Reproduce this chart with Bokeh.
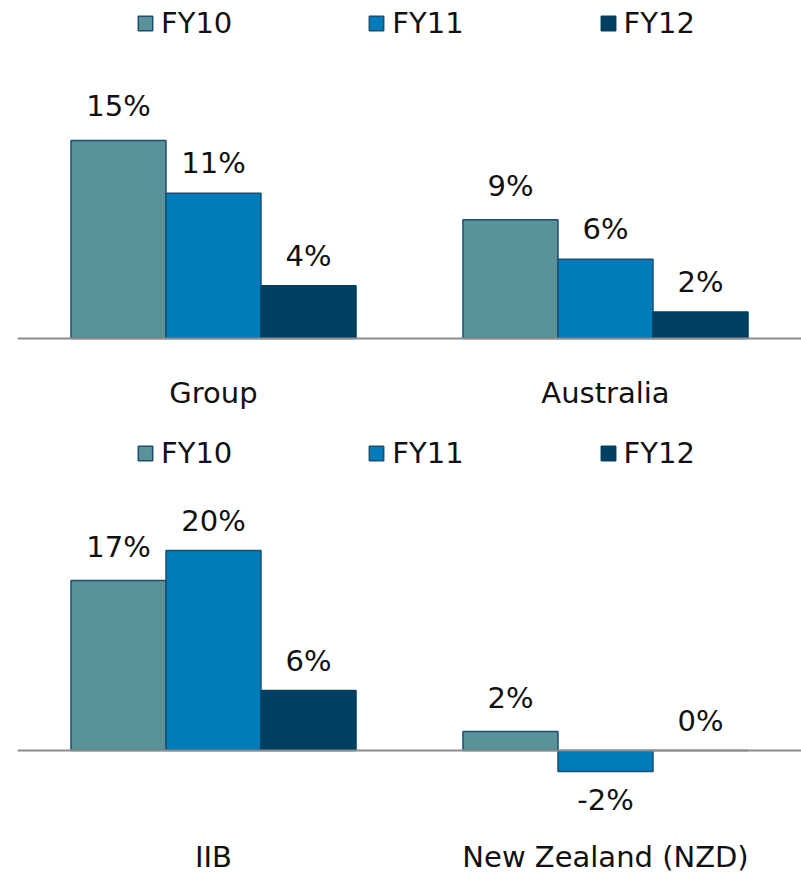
from bokeh.plotting import figure
from bokeh.models import (ColumnDataSource, FactorRange, Range1d, Legend, LegendItem, Span)
from bokeh.layouts import column
from bokeh.core.properties import value
from bokeh.embed import file_html
from bokeh.resources import INLINE

# ---- data ----
years = ["FY10", "FY11", "FY12"]

top_categories = ["Group", "Australia"]
top_fy10 = [15.0, 9.0]
top_fy11 = [11.0, 6.0]
top_fy12 = [4.0, 2.0]

bottom_categories = ["IIB", "New Zealand (NZD)"]
bottom_fy10 = [17.0, 1.9]
bottom_fy11 = [20.0, -2.1]
bottom_fy12 = [6.0, 0.0]

# ---- style ----
FONT = "DejaVu Sans"
FSIZE = "29px"
FILL = {"FY10": "#5A9299", "FY11": "#007CBA", "FY12": "#003F62"}
LINE = {"FY10": "#1B4F72", "FY11": "#1B4F72", "FY12": "#003F62"}
LABEL_GAP = {"FY10": 34, "FY11": 30, "FY12": 30}
NEG_GAP = 28


def panel(cats, series, height, y0, y1, cat_offset, legend_y):
    factors = [(c, y) for c in cats for y in years]
    p = figure(width=801, height=height,
               x_range=FactorRange(*factors, group_padding=1.126, range_padding=0.563,
                                   range_padding_units="absolute"),
               y_range=Range1d(y0, y1),
               x_axis_location=None, y_axis_location=None,
               output_backend="svg", toolbar_location=None,
               min_border_left=17, min_border_right=0, min_border_top=0, min_border_bottom=0)
    p.grid.visible = False
    p.outline_line_color = None
    p.background_fill_color = "white"

    items = []
    lx, ly, lt, lo = [], [], [], []
    for yr, vals in zip(years, series):
        xs = [(c, yr) for c in cats]
        src = ColumnDataSource(dict(x=xs, top=vals))
        r = p.vbar(x="x", top="top", bottom=0, width=1.0, source=src,
                   fill_color=FILL[yr], line_color=LINE[yr], line_width=1.5)
        items.append(LegendItem(label=yr, renderers=[r]))
        for x, v in zip(xs, vals):
            lx.append(x)
            ly.append(v)
            lt.append("%d%%" % round(v))
            lo.append(-LABEL_GAP[yr] if v >= 0 else NEG_GAP)

    p.add_layout(Span(location=0, dimension="width", line_color="#8C8C8C", line_width=2))

    lsrc = ColumnDataSource(dict(x=lx, y=ly, text=lt, yoff=lo))
    p.text(x="x", y="y", text="text", y_offset="yoff", source=lsrc,
           text_align="center", text_baseline="alphabetic",
           text_font=value(FONT), text_font_size=FSIZE, text_color="#111111")

    csrc = ColumnDataSource(dict(x=cats, y=[0] * len(cats), text=cats))
    p.text(x="x", y="y", text="text", y_offset=cat_offset, source=csrc,
           text_align="center", text_baseline="alphabetic",
           text_font=value(FONT), text_font_size=FSIZE, text_color="#111111")

    legend = Legend(items=items, orientation="horizontal", location=(119, legend_y),
                    glyph_width=18, glyph_height=18, label_standoff=7, spacing=135,
                    padding=0, margin=0, border_line_color=None, background_fill_alpha=0,
                    label_text_font=FONT, label_text_font_size=FSIZE,
                    label_text_color="#111111")
    p.add_layout(legend)
    return p


p1 = panel(top_categories, [top_fy10, top_fy11, top_fy12], 430, -6.97, 25.606, 55, 390)
p2 = panel(bottom_categories, [bottom_fy10, bottom_fy11, bottom_fy12], 443, -12.3, 32.0, 106, 403)

layout = column(p1, p2, spacing=0)
open("out.html", "w").write(file_html(layout, INLINE))
